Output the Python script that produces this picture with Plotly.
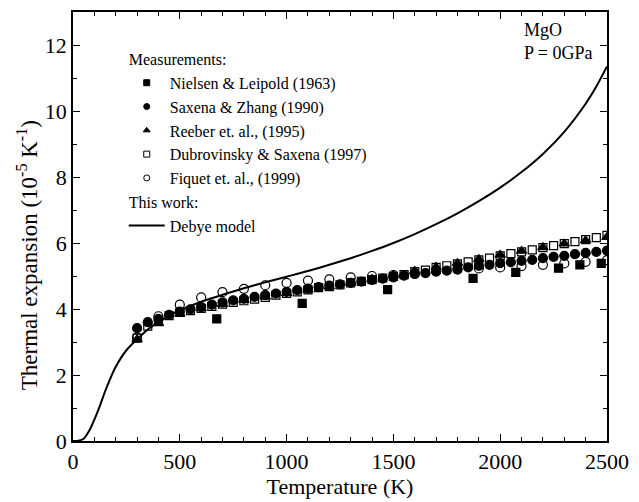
import plotly.graph_objects as go

# ---- data ----
nielsen_T = [673, 1073, 1473, 1873, 2073, 2273, 2373, 2473]
nielsen_a = [3.70, 4.17, 4.59, 4.93, 5.11, 5.24, 5.34, 5.38]

saxena_T = list(range(300, 2501, 50))
saxena_a = [3.42, 3.60, 3.70, 3.82, 3.92, 3.99, 4.06, 4.13, 4.20, 4.26,
            4.31, 4.37, 4.42, 4.47, 4.52, 4.57, 4.62, 4.66, 4.71, 4.75,
            4.79, 4.83, 4.88, 4.92, 4.96, 5.01, 5.06, 5.09, 5.13, 5.16,
            5.21, 5.26, 5.31, 5.34, 5.39, 5.42, 5.46, 5.49, 5.54, 5.58,
            5.61, 5.66, 5.70, 5.73, 5.77]

reeber_T = list(range(300, 2501, 100))
reeber_a = [3.08, 3.57, 3.85, 4.02, 4.15, 4.27, 4.37, 4.47, 4.58, 4.68,
            4.79, 4.90, 5.03, 5.15, 5.27, 5.39, 5.51, 5.64, 5.76, 5.87,
            5.98, 6.08, 6.18]

dubro_T = list(range(300, 2501, 50))
dubro_a = [3.12, 3.48, 3.62, 3.80, 3.90, 3.95, 4.02, 4.08, 4.15, 4.20,
           4.25, 4.30, 4.35, 4.42, 4.47, 4.52, 4.58, 4.65, 4.68, 4.73,
           4.79, 4.84, 4.89, 4.94, 4.99, 5.04, 5.13, 5.18, 5.26, 5.31,
           5.37, 5.43, 5.49, 5.54, 5.61, 5.68, 5.73, 5.79, 5.86, 5.92,
           5.98, 6.04, 6.10, 6.16, 6.23]

fiquet_T = list(range(300, 2501, 100))
fiquet_a = [3.13, 3.78, 4.13, 4.35, 4.51, 4.61, 4.72, 4.79, 4.86, 4.90,
            4.96, 5.00, 5.03, 5.09, 5.15, 5.19, 5.23, 5.26, 5.30, 5.34,
            5.38, 5.43, 5.48]

debye_T = [0, 25, 50, 75, 100, 125, 150, 175, 200, 250, 300, 350, 400, 450,
           500, 600, 700, 800, 900, 1000, 1100, 1200, 1300, 1400, 1500,
           1600, 1700, 1800, 1900, 2000, 2100, 2200, 2300, 2400, 2450, 2500]
debye_a = [0.0, 0.01, 0.07, 0.30, 0.65, 1.05, 1.50, 1.90, 2.25, 2.75, 3.08,
           3.38, 3.60, 3.80, 3.96, 4.22, 4.43, 4.63, 4.81, 4.98, 5.15, 5.34,
           5.54, 5.76, 6.00, 6.27, 6.57, 6.90, 7.27, 7.68, 8.15, 8.70, 9.37,
           10.22, 10.74, 11.35]

FONT = "Liberation Serif"

series = [
    (nielsen_T, nielsen_a, "Nielsen & Leipold (1963)", "square", 8),
    (saxena_T, saxena_a, "Saxena & Zhang (1990)", "circle", 9),
    (reeber_T, reeber_a, "Reeber et. al., (1995)", "triangle-up", 9),
    (dubro_T, dubro_a, "Dubrovinsky & Saxena (1997)", "square-open", 8),
    (fiquet_T, fiquet_a, "Fiquet et. al., (1999)", "circle-open", 9),
]

fig = go.Figure()
for i, (tx, ay, name, sym, sz) in enumerate(series):
    fig.add_trace(go.Scatter(x=tx, y=ay, mode="markers", name=name, showlegend=False,
                             marker=dict(symbol=sym, color="black", size=sz, line=dict(width=1.2, color="black"))))
    lg = dict(legendgroup="m")
    if i == 0:
        lg["legendgrouptitle_text"] = "Measurements:"
    fig.add_trace(go.Scatter(x=[None], y=[None], mode="markers", name=name,
                             marker=dict(symbol=sym, color="black", size=6, line=dict(width=1, color="black")),
                             **lg))

fig.add_trace(go.Scatter(x=debye_T, y=debye_a, mode="lines", name="Debye model",
                         line=dict(color="black", width=2, shape="spline", smoothing=0.6),
                         legendgroup="w", legendgrouptitle_text="This work:"))

axis_common = dict(showline=True, linecolor="black", linewidth=1.5, mirror="ticks",
                   ticks="inside", ticklen=7, tickwidth=1.2, tickcolor="black",
                   showgrid=False, zeroline=False,
                   tickfont=dict(family=FONT, size=22, color="black"))
fig.update_xaxes(range=[0, 2500], dtick=500, tick0=0,
                 minor=dict(dtick=100, ticks="inside", ticklen=4, tickcolor="black", tickwidth=1.2),
                 title=dict(text="Temperature (K)", font=dict(family=FONT, size=22, color="black"), standoff=0),
                 **axis_common)
fig.update_yaxes(range=[0, 13], dtick=2, tick0=0,
                 minor=dict(dtick=1, ticks="inside", ticklen=4, tickcolor="black", tickwidth=1.2),
                 **axis_common)

fig.add_annotation(x=-0.085, y=0.432, xref="paper", yref="paper", xanchor="center", yanchor="middle",
                   text="Thermal expansion (10<sup>-5</sup> K<sup>-1</sup>)", textangle=-90,
                   showarrow=False, font=dict(family=FONT, size=23, color="black"))

fig.add_annotation(x=0.84, y=0.985, xref="paper", yref="paper", xanchor="left", yanchor="top",
                   text="MgO<br>P = 0GPa", showarrow=False, align="left",
                   font=dict(family=FONT, size=18, color="black"))

fig.update_layout(
    width=639, height=502,
    margin=dict(l=73, r=24, t=10, b=61),
    plot_bgcolor="white", paper_bgcolor="white",
    showlegend=True,
    legend=dict(x=0.095, y=0.93, xanchor="left", yanchor="top",
                font=dict(family=FONT, size=16, color="black"),
                grouptitlefont=dict(family=FONT, size=16, color="black"),
                bgcolor="rgba(0,0,0,0)", tracegroupgap=0, itemwidth=36),
    font=dict(family=FONT, color="black"),
)

fig.write_html("out.html")
